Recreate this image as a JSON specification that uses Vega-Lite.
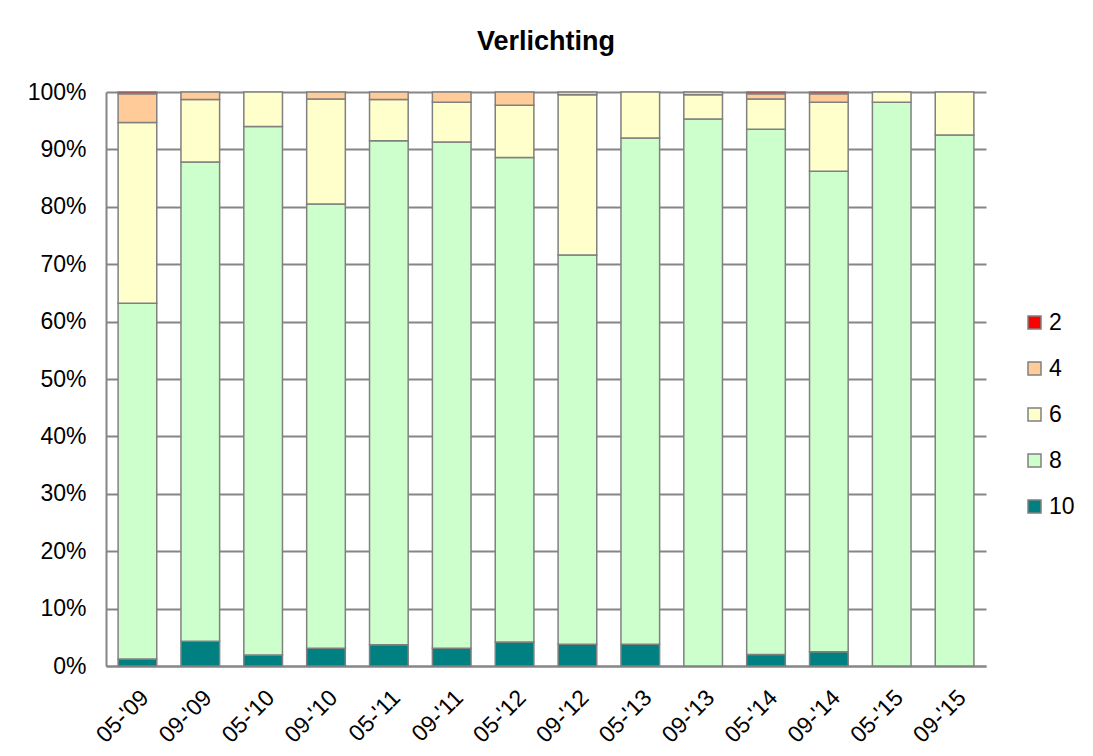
{
  "$schema": "https://vega.github.io/schema/vega-lite/v6.json",
  "autosize": {"type": "none"},
  "width": 880,
  "height": 574,
  "padding": {"left": 106, "top": 92, "right": 107, "bottom": 90},
  "background": "white",
  "title": {"text": "Verlichting", "font": "Liberation Sans", "fontSize": 27, "fontWeight": "bold", "color": "#000000", "anchor": "middle", "offset": 25},
  "data": {"values": [
    {"periode": "05-'09", "cijfer": 10, "pct": 1.2},
    {"periode": "05-'09", "cijfer": 8, "pct": 62.0},
    {"periode": "05-'09", "cijfer": 6, "pct": 31.5},
    {"periode": "05-'09", "cijfer": 4, "pct": 5.0},
    {"periode": "05-'09", "cijfer": 2, "pct": 0.3},
    {"periode": "09-'09", "cijfer": 10, "pct": 4.3},
    {"periode": "09-'09", "cijfer": 8, "pct": 83.5},
    {"periode": "09-'09", "cijfer": 6, "pct": 10.9},
    {"periode": "09-'09", "cijfer": 4, "pct": 1.3},
    {"periode": "05-'10", "cijfer": 10, "pct": 1.9},
    {"periode": "05-'10", "cijfer": 8, "pct": 92.1},
    {"periode": "05-'10", "cijfer": 6, "pct": 6.0},
    {"periode": "09-'10", "cijfer": 10, "pct": 3.1},
    {"periode": "09-'10", "cijfer": 8, "pct": 77.4},
    {"periode": "09-'10", "cijfer": 6, "pct": 18.3},
    {"periode": "09-'10", "cijfer": 4, "pct": 1.2},
    {"periode": "05-'11", "cijfer": 10, "pct": 3.7},
    {"periode": "05-'11", "cijfer": 8, "pct": 87.8},
    {"periode": "05-'11", "cijfer": 6, "pct": 7.2},
    {"periode": "05-'11", "cijfer": 4, "pct": 1.3},
    {"periode": "09-'11", "cijfer": 10, "pct": 3.1},
    {"periode": "09-'11", "cijfer": 8, "pct": 88.2},
    {"periode": "09-'11", "cijfer": 6, "pct": 6.9},
    {"periode": "09-'11", "cijfer": 4, "pct": 1.8},
    {"periode": "05-'12", "cijfer": 10, "pct": 4.2},
    {"periode": "05-'12", "cijfer": 8, "pct": 84.4},
    {"periode": "05-'12", "cijfer": 6, "pct": 9.1},
    {"periode": "05-'12", "cijfer": 4, "pct": 2.3},
    {"periode": "09-'12", "cijfer": 10, "pct": 3.8},
    {"periode": "09-'12", "cijfer": 8, "pct": 67.8},
    {"periode": "09-'12", "cijfer": 6, "pct": 27.9},
    {"periode": "09-'12", "cijfer": 4, "pct": 0.5},
    {"periode": "05-'13", "cijfer": 10, "pct": 3.8},
    {"periode": "05-'13", "cijfer": 8, "pct": 88.2},
    {"periode": "05-'13", "cijfer": 6, "pct": 8.0},
    {"periode": "09-'13", "cijfer": 8, "pct": 95.3},
    {"periode": "09-'13", "cijfer": 6, "pct": 4.2},
    {"periode": "09-'13", "cijfer": 4, "pct": 0.5},
    {"periode": "05-'14", "cijfer": 10, "pct": 2.0},
    {"periode": "05-'14", "cijfer": 8, "pct": 91.5},
    {"periode": "05-'14", "cijfer": 6, "pct": 5.3},
    {"periode": "05-'14", "cijfer": 4, "pct": 0.9},
    {"periode": "05-'14", "cijfer": 2, "pct": 0.3},
    {"periode": "09-'14", "cijfer": 10, "pct": 2.5},
    {"periode": "09-'14", "cijfer": 8, "pct": 83.7},
    {"periode": "09-'14", "cijfer": 6, "pct": 12.0},
    {"periode": "09-'14", "cijfer": 4, "pct": 1.5},
    {"periode": "09-'14", "cijfer": 2, "pct": 0.3},
    {"periode": "05-'15", "cijfer": 8, "pct": 98.2},
    {"periode": "05-'15", "cijfer": 6, "pct": 1.8},
    {"periode": "09-'15", "cijfer": 8, "pct": 92.5},
    {"periode": "09-'15", "cijfer": 6, "pct": 7.5}
  ]},
  "mark": {"type": "bar", "stroke": "#808080", "strokeWidth": 1.5},
  "encoding": {
    "x": {
      "field": "periode", "type": "nominal", "sort": null,
      "scale": {"paddingInner": 0.385, "paddingOuter": 0.1925},
      "axis": {"title": null, "labelAngle": -45, "labelFont": "Liberation Sans", "labelFontSize": 23, "labelColor": "#000000", "labelPadding": 20, "ticks": false, "domainColor": "#868686", "domainWidth": 2, "grid": false}
    },
    "y": {
      "field": "pct", "type": "quantitative", "stack": "normalize",
      "scale": {"domain": [0, 1]},
      "axis": {"title": null, "format": ".0%", "values": [0, 0.1, 0.2, 0.3, 0.4, 0.5, 0.6, 0.7, 0.8, 0.9, 1], "labelFont": "Liberation Sans", "labelFontSize": 23, "labelColor": "#000000", "labelPadding": 20, "ticks": false, "domainColor": "#868686", "domainWidth": 2, "grid": true, "gridColor": "#868686", "gridWidth": 2}
    },
    "color": {
      "field": "cijfer", "type": "nominal",
      "scale": {"domain": [2, 4, 6, 8, 10], "range": ["#FF0000", "#FFCC99", "#FFFFCC", "#CCFFCC", "#008080"]},
      "legend": {"title": null, "orient": "none", "legendX": 917, "legendY": 219, "symbolType": "square", "symbolSize": 169, "symbolStrokeColor": "#808080", "symbolStrokeWidth": 1.5, "labelFont": "Liberation Sans", "labelFontSize": 23, "labelColor": "#000000", "labelOffset": 3, "rowPadding": 22}
    },
    "order": {"field": "cijfer", "type": "quantitative", "sort": "descending"}
  },
  "config": {"view": {"stroke": null}}
}
